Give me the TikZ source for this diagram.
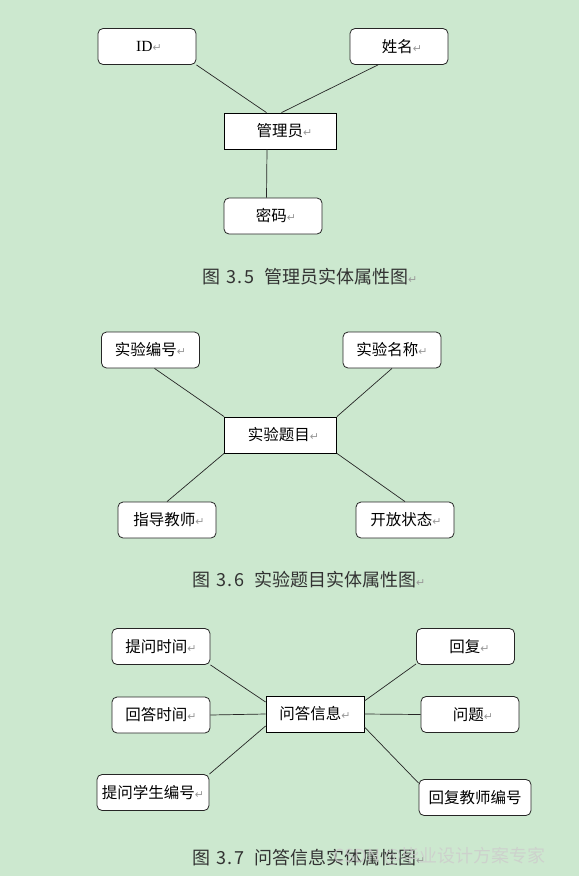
\documentclass[tikz,border=0pt]{standalone}
\usepackage{fontspec}
\newfontfamily\cjk{Noto Sans CJK SC}
\newfontfamily\symf{DejaVu Sans}
\setmainfont{Liberation Serif}
\definecolor{bg}{RGB}{204,232,207}
\definecolor{capc}{RGB}{50,50,50}
\newcommand{\ret}{{\symf\color{gray!80}\fontsize{11}{11}\selectfont ↵}}
\newcommand{\capnum}[2]{图\hspace{6pt}#1\hspace{1.5pt}.\hspace{1.5pt}#2\hspace{10pt}}
\tikzset{
  attr/.style={draw=black!85, line width=0.8pt, fill=white, rounded corners=5pt,
    minimum width=98pt, minimum height=36pt, inner sep=0pt,
    font=\cjk\fontsize{15.5}{16}\selectfont},
  ent/.style={draw=black, line width=0.8pt, fill=white,
    minimum width=112pt, minimum height=36pt, inner sep=0pt,
    font=\cjk\fontsize{15.5}{16}\selectfont},
  link/.style={draw=black!85, line width=0.7pt},
  figcap/.style={anchor=west, inner sep=0pt, text=capc, font=\cjk\fontsize{18}{20}\selectfont},
}
\begin{document}
\begin{tikzpicture}[x=1pt,y=-1pt]
\fill[bg] (0,0) rectangle (579,876);
\useasboundingbox (0,0) rectangle (579,876);

% ---------- Fig 3.5 ----------
\node[attr] (id) at (147,46.5) {\hspace{4pt}{\rmfamily ID}\ret};
\node[attr] (xm) at (399,46.5) {\hspace{6pt}姓名\ret};
\node[ent] (gly) at (280.5,131) {\hspace{8pt}管理员\ret};
\node[attr] (mm) at (273,216) {\hspace{6pt}密码\ret};
\draw[link] (id.south east) -- ([xshift=-14pt]gly.north);
\draw[link] ([xshift=-21pt]xm.south) -- ([xshift=1pt]gly.north);
\draw[link] ([xshift=-13.5pt]gly.south) -- ([xshift=-6.5pt]mm.north);
\node[figcap] (c35) at (202,277) {\capnum{3}{5}管理员实体属性图\ret};

% ---------- Fig 3.6 ----------
\node[attr] (sybh) at (150.5,350) {实验编号\ret};
\node[attr] (symc) at (392,350) {实验名称\ret};
\node[ent] (sytm) at (280.5,435) {\hspace{6pt}实验题目\ret};
\node[attr] (zdjs) at (167,520) {\hspace{4pt}指导教师\ret};
\node[attr] (kfzt) at (405,520) {\hspace{2pt}开放状态\ret};
\draw[link] ([xshift=4pt]sybh.south) -- (sytm.north west);
\draw[link] (symc.south) -- (sytm.north east);
\draw[link] (zdjs.north) -- (sytm.south west);
\draw[link] (kfzt.north) -- (sytm.south east);
\node[figcap] (c36) at (192,580) {\capnum{3}{6}实验题目实体属性图\ret};

% ---------- Fig 3.7 ----------
\node[attr] (twsj) at (161,646.5) {提问时间\ret};
\node[attr] (hdsj) at (161,715) {回答时间\ret};
\node[attr, minimum width=112pt] (twxs) at (153,792.5) {提问学生编号\ret};
\node[ent, minimum width=98pt] (wdxx) at (315,714) {问答信息\ret};
\node[attr] (hf) at (465.5,646.5) {\hspace{8pt}回复\ret};
\node[attr] (wt) at (470,714.5) {\hspace{6pt}问题\ret};
\node[attr, minimum width=112pt] (hfjs) at (475,797.5) {回复教师编号};
\draw[link] (twsj.south east) -- ([yshift=12pt]wdxx.west);
\draw[link] (hdsj.east) -- (wdxx.west);
\draw[link] (twxs.north east) -- ([yshift=-12pt]wdxx.west);
\draw[link] ([yshift=1pt]hf.south west) -- ([yshift=13pt]wdxx.east);
\draw[link] (wt.west) -- (wdxx.east);
\draw[link] ([yshift=-4pt]hfjs.north west) -- ([yshift=-13pt]wdxx.east);
\node[figcap] (c37) at (192,858) {\capnum{3}{7}问答信息实体属性图\ret};
\node[anchor=west, inner sep=0pt, text=gray!40, opacity=0.8, font=\cjk\fontsize{18}{20}\selectfont] (wm) at (333,856) {CSDN @毕业设计方案专家};
\end{tikzpicture}
\end{document}
